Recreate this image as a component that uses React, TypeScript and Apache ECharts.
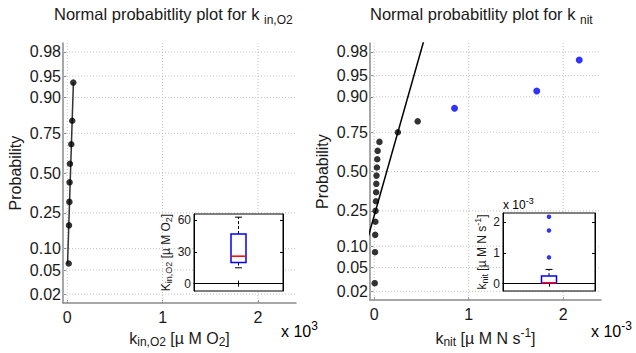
import React, { useEffect, useRef } from "react";
import * as echarts from "echarts";

// ---------- data ----------
const probTicks = [0.02, 0.05, 0.1, 0.25, 0.5, 0.75, 0.9, 0.95, 0.98];
const probTickLabels = ["0.02", "0.05", "0.10", "0.25", "0.50", "0.75", "0.90", "0.95", "0.98"];
const mainXTicks = [0, 1, 2];
// k_in,O2 samples [µM O2]
const kinO2 = [15, 18, 22, 24, 28, 42, 52, 63];
// k_nit samples [x 10^-3 µM N s^-1]
const knit = [0.005, 0.008, 0.01, 0.012, 0.014, 0.018, 0.02, 0.022, 0.024, 0.028, 0.032, 0.036, 0.055, 0.25, 0.46, 0.85, 1.72, 2.17];
const insetTicksKin = [0, 30, 60];
const insetTicksKnit = [0, 1, 2];

// ---------- helpers ----------
const FONT = '"Liberation Sans", Arial, Helvetica, sans-serif';
const TXT = "#1a1a1a";
const AXC = "#8a8a8a";
const GRIDC = "#c2c2c2";

function normInv(p: number): number {
  const a = [-3.969683028665376e1, 2.209460984245205e2, -2.759285104469687e2, 1.38357751867269e2, -3.066479806614716e1, 2.506628277459239];
  const b = [-5.447609879822406e1, 1.615858368580409e2, -1.556989798598866e2, 6.680131188771972e1, -1.328068155288572e1];
  const c = [-7.784894002430293e-3, -3.223964580411365e-1, -2.400758277161838, -2.549732539343734, 4.374664141464968, 2.938163982698783];
  const d = [7.784695709041462e-3, 3.224671290700398e-1, 2.445134137142996, 3.754408661907416];
  const plow = 0.02425;
  if (p < plow) {
    const q = Math.sqrt(-2 * Math.log(p));
    return (((((c[0] * q + c[1]) * q + c[2]) * q + c[3]) * q + c[4]) * q + c[5]) / ((((d[0] * q + d[1]) * q + d[2]) * q + d[3]) * q + 1);
  }
  if (p <= 1 - plow) {
    const q = p - 0.5;
    const r = q * q;
    return ((((((a[0] * r + a[1]) * r + a[2]) * r + a[3]) * r + a[4]) * r + a[5]) * q) / (((((b[0] * r + b[1]) * r + b[2]) * r + b[3]) * r + b[4]) * r + 1);
  }
  const q = Math.sqrt(-2 * Math.log(1 - p));
  return -(((((c[0] * q + c[1]) * q + c[2]) * q + c[3]) * q + c[4]) * q + c[5]) / ((((d[0] * q + d[1]) * q + d[2]) * q + d[3]) * q + 1);
}

function prctile(sorted: number[], pct: number): number {
  const n = sorted.length;
  const pos = pct * n + 0.5;
  if (pos <= 1) return sorted[0];
  if (pos >= n) return sorted[n - 1];
  const i = Math.floor(pos);
  const f = pos - i;
  return sorted[i - 1] + f * (sorted[i] - sorted[i - 1]);
}

function boxStats(vals: number[]) {
  const s = [...vals].sort((x, y) => x - y);
  const q1 = prctile(s, 0.25);
  const med = prctile(s, 0.5);
  const q3 = prctile(s, 0.75);
  const iqr = q3 - q1;
  const hiF = q3 + 1.5 * iqr;
  const loF = q1 - 1.5 * iqr;
  const inside = s.filter((v) => v >= loF && v <= hiF);
  const outliers = s.filter((v) => v < loF || v > hiF);
  return { q1, med, q3, lo: inside[0], hi: inside[inside.length - 1], outliers, sorted: s };
}

function probPoints(vals: number[], scale: number) {
  const s = [...vals].sort((x, y) => x - y);
  const n = s.length;
  return s.map((v, i) => [v * scale, normInv((i + 0.5) / n)]);
}

function fitLine(vals: number[], scale: number) {
  const st = boxStats(vals);
  const mu = (st.q1 + st.q3) / 2;
  const sigma = (st.q3 - st.q1) / (2 * normInv(0.75));
  const n = st.sorted.length;
  const zMin = normInv(0.5 / n);
  const zMax = normInv((n - 0.5) / n);
  const zLo = Math.min(zMin, (st.sorted[0] - mu) / sigma);
  const zHi = Math.max(zMax, (st.sorted[n - 1] - mu) / sigma);
  return [
    [(mu + sigma * zLo) * scale, zLo],
    [(mu + sigma * zHi) * scale, zHi],
  ];
}

// rich text set: main, subscript and superscript tokens (shift via top padding)
function rich(fs: number, subFs: number, down: number, up: number) {
  const P = up;
  const half = (fs - subFs) / 2;
  const base = { verticalAlign: "top", fontFamily: FONT, color: TXT, fontWeight: "normal" };
  return {
    n: { ...base, fontSize: fs, padding: [P, 0, 0, 0] },
    sub: { ...base, fontSize: subFs, padding: [P + half + down, 0, 0, 0] },
    sup: { ...base, fontSize: subFs, padding: [Math.max(0, P + half - up), 0, 0, 0] },
  };
}

const zTicks = probTicks.map(normInv);
const Z_LIM = 2.205;
const X_MIN = -0.045;
const X_MAX = 2.4;

export default function App() {
  const ref = useRef<HTMLDivElement>(null);
  useEffect(() => {
    if (!ref.current) return;
    const chart = echarts.init(ref.current, undefined, { renderer: "svg" });

    const ptsL = probPoints(kinO2, 1 / 1000);
    const ptsR = probPoints(knit, 1);
    const lineL = fitLine(kinO2, 1 / 1000);
    const lineR = fitLine(knit, 1);
    const stL = boxStats(kinO2);
    const stR = boxStats(knit);
    const isOut = (v: number) => stR.outliers.indexOf(v) >= 0;
    const ptsRIn = ptsR.filter((p) => !isOut(p[0]));
    const ptsROut = ptsR.filter((p) => isOut(p[0]));

    const gridData = [
      ...zTicks.map((z) => [0, z]),
      ...mainXTicks.map((x) => [1, x]),
    ];
    const gridRender = (params: any, api: any) => {
      const cs = params.coordSys;
      const kind = api.value(0);
      const v = api.value(1);
      const style = { stroke: GRIDC, lineWidth: 1, lineDash: [1, 2] };
      if (kind === 0) {
        const y = api.coord([0, v])[1];
        return { type: "line", shape: { x1: cs.x, y1: y, x2: cs.x + cs.width, y2: y }, style };
      }
      const x = api.coord([v, 0])[0];
      return { type: "line", shape: { x1: x, y1: cs.y, x2: x, y2: cs.y + cs.height }, style };
    };

    const boxRender = (st: any) => (params: any, api: any) => {
      const cx = api.coord([1, 0])[0];
      const y = (v: number) => api.coord([1, v])[1];
      const hw = 7.5;
      const cw = 3.5;
      const dash = { stroke: "#000", lineWidth: 1, lineDash: [3, 2] };
      const solid = { stroke: "#000", lineWidth: 1 };
      return {
        type: "group",
        children: [
          { type: "line", shape: { x1: cx, y1: y(st.q3), x2: cx, y2: y(st.hi) }, style: dash },
          { type: "line", shape: { x1: cx, y1: y(st.q1), x2: cx, y2: y(st.lo) }, style: dash },
          { type: "line", shape: { x1: cx - cw, y1: y(st.hi), x2: cx + cw, y2: y(st.hi) }, style: solid },
          { type: "line", shape: { x1: cx - cw, y1: y(st.lo), x2: cx + cw, y2: y(st.lo) }, style: solid },
          { type: "rect", shape: { x: cx - hw, y: y(st.q3), width: 2 * hw, height: y(st.q1) - y(st.q3) }, style: { fill: "#fff", stroke: "#0000ff", lineWidth: 1.5 } },
          { type: "line", shape: { x1: cx - hw, y1: y(st.med), x2: cx + hw, y2: y(st.med) }, style: { stroke: "#ff0000", lineWidth: 1.5 } },
        ],
      };
    };

    const labelFmtY = (v: number) => {
      for (let i = 0; i < zTicks.length; i++) if (Math.abs(zTicks[i] - v) < 1e-6) return probTickLabels[i];
      return "";
    };

    const mainX = (gi: number, name: string) => ({
      type: "value",
      gridIndex: gi,
      min: X_MIN,
      max: X_MAX,
      name,
      nameLocation: "middle",
      nameGap: 14,
      nameTextStyle: { rich: rich(16, 12, 4, 5) },
      axisLine: { show: true, onZero: false, lineStyle: { color: AXC, width: 1.5 } },
      axisTick: { show: true, inside: true, length: 3, customValues: mainXTicks, lineStyle: { color: AXC } },
      axisLabel: { customValues: mainXTicks, fontSize: 16, color: TXT, fontFamily: FONT, margin: 6 },
      splitLine: { show: false },
    });
    const mainY = (gi: number) => ({
      type: "value",
      gridIndex: gi,
      min: -Z_LIM,
      max: Z_LIM,
      name: "Probability",
      nameLocation: "middle",
      nameRotate: 90,
      nameGap: 40,
      nameTextStyle: { fontSize: 16, color: TXT, fontFamily: FONT },
      axisLine: { show: true, onZero: false, lineStyle: { color: AXC, width: 1.5 } },
      axisTick: { show: true, inside: true, length: 3, customValues: zTicks, lineStyle: { color: AXC } },
      axisLabel: { customValues: zTicks, formatter: labelFmtY, fontSize: 16, color: TXT, fontFamily: FONT, margin: 2 },
      splitLine: { show: false },
    });
    const insetX = (gi: number, pos: string) => ({
      type: "value",
      gridIndex: gi,
      position: pos,
      min: 0.5,
      max: 1.5,
      z: 11,
      axisLine: { show: true, lineStyle: { color: "#000", width: 1 } },
      axisTick: { show: true, inside: true, length: 3, customValues: [1], lineStyle: { color: "#000" } },
      axisLabel: { show: false },
      splitLine: { show: false },
    });
    const insetY = (gi: number, pos: string, min: number, max: number, ticks: number[], name: string, gap: number) => ({
      type: "value",
      gridIndex: gi,
      position: pos,
      min,
      max,
      z: 11,
      name: pos === "left" ? name : "",
      nameLocation: "middle",
      nameRotate: 90,
      nameGap: gap,
      nameTextStyle: { rich: rich(12, 9, 3, 4) },
      axisLine: { show: true, lineStyle: { color: "#000", width: 1 } },
      axisTick: { show: true, inside: true, length: 3, customValues: ticks, lineStyle: { color: "#000" } },
      axisLabel: { show: pos === "left", customValues: ticks, fontSize: 12, color: TXT, fontFamily: FONT, margin: 3 },
      splitLine: { show: false },
    });

    const option: any = {
      animation: false,
      textStyle: { fontFamily: FONT },
      title: [
        { text: "{n|Normal probabitlity plot for k }{sub|in,O2}", left: 54, top: 3, textAlign: "left", padding: 0, textStyle: { fontWeight: "normal", rich: rich(16.5, 12, 7, 2) } },
        { text: "{n|Normal probabitlity plot for k }{sub|nit}", left: 370, top: 3, textAlign: "left", padding: 0, textStyle: { fontWeight: "normal", rich: rich(16.5, 12, 7, 2) } },
      ],
      grid: [
        { left: 63, top: 43, width: 233, height: 262, containLabel: false },
        { left: 370, top: 43, width: 231, height: 262, containLabel: false },
        { left: 194, top: 214, width: 89, height: 77, show: true, backgroundColor: "#fff", borderColor: "#000", borderWidth: 1, z: 10 },
        { left: 503, top: 213, width: 92, height: 78, show: true, backgroundColor: "#fff", borderColor: "#000", borderWidth: 1, z: 10 },
      ],
      xAxis: [
        mainX(0, "{n|k}{sub|in,O2}{n| [µ M O}{sub|2}{n|]}"),
        mainX(1, "{n|k}{sub|nit}{n| [µ M N s}{sup|-1}{n|]}"),
        insetX(2, "bottom"),
        insetX(3, "bottom"),
        insetX(2, "top"),
        insetX(3, "top"),
      ],
      yAxis: [
        mainY(0),
        mainY(1),
        insetY(2, "left", -7, 66, insetTicksKin, "{n|K}{sub|in,O2}{n| [µ M O}{sub|2}{n|]}", 18),
        insetY(3, "left", -0.24, 2.29, insetTicksKnit, "{n|k}{sub|nit}{n| [µ M N s}{sup|-1}{n|]}", 13),
        insetY(2, "right", -7, 66, insetTicksKin, "", 0),
        insetY(3, "right", -0.24, 2.29, insetTicksKnit, "", 0),
      ],
      graphic: [
        { type: "text", x: 281, y: 318, style: { text: "{n|x 10}{sup|3}", rich: rich(16, 12, 0, 5) } },
        { type: "text", x: 591, y: 318, style: { text: "{n|x 10}{sup|-3}", rich: rich(16, 12, 0, 5) } },
        { type: "text", x: 503, y: 195, z: 20, style: { text: "{n|x 10}{sup|-3}", rich: rich(12, 9, 0, 4) } },
      ],
      series: [
        { type: "custom", xAxisIndex: 0, yAxisIndex: 0, z: 1, silent: true, data: gridData, renderItem: gridRender },
        { type: "custom", xAxisIndex: 1, yAxisIndex: 1, z: 1, silent: true, data: gridData, renderItem: gridRender },
        { type: "line", xAxisIndex: 0, yAxisIndex: 0, z: 3, data: lineL, symbol: "none", lineStyle: { color: "#333", width: 1.5 }, clip: true },
        { type: "scatter", xAxisIndex: 0, yAxisIndex: 0, z: 4, data: ptsL, symbolSize: 6.5, itemStyle: { color: "#000" } },
        { type: "line", xAxisIndex: 1, yAxisIndex: 1, z: 3, data: lineR, symbol: "none", lineStyle: { color: "#000", width: 1.5 }, clip: true },
        { type: "scatter", xAxisIndex: 1, yAxisIndex: 1, z: 4, data: ptsRIn, symbolSize: 6.5, itemStyle: { color: "#000" } },
        { type: "scatter", xAxisIndex: 1, yAxisIndex: 1, z: 4, data: ptsROut, symbolSize: 7, itemStyle: { color: "#0000ff" } },
        { type: "custom", xAxisIndex: 2, yAxisIndex: 2, z: 12, silent: true, data: [[1, stL.med]], renderItem: boxRender(stL) },
        { type: "custom", xAxisIndex: 3, yAxisIndex: 3, z: 12, silent: true, data: [[1, stR.med]], renderItem: boxRender(stR) },
        { type: "scatter", xAxisIndex: 3, yAxisIndex: 3, z: 13, data: stR.outliers.map((v) => [1, v]), symbolSize: 4.5, itemStyle: { color: "#0000ff" } },
      ],
    };
    chart.setOption(option);
    return () => chart.dispose();
  }, []);
  return <div ref={ref} style={{ position: "fixed", left: 0, top: 0, width: 636, height: 353, background: "#fff" }} />;
}
